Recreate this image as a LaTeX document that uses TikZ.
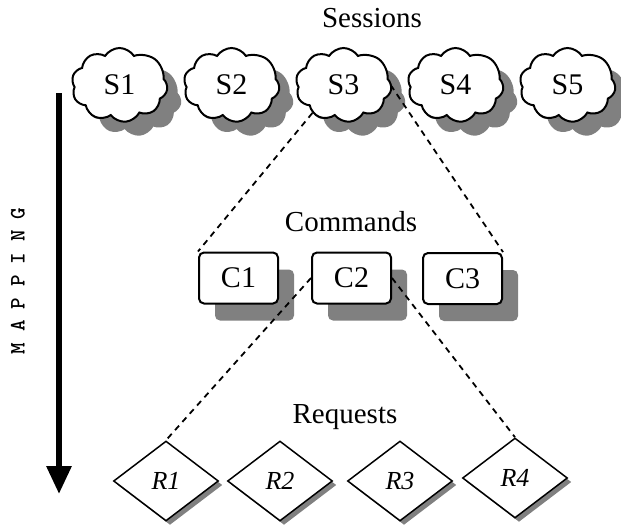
\documentclass[tikz,border=0pt]{standalone}
\usepackage{fontspec}
\setmainfont{Liberation Serif}
\usetikzlibrary{shapes.symbols,shapes.geometric,shadows,arrows.meta}
\definecolor{shade}{HTML}{808080}
\newcommand{\mgap}{\kern11pt}
\tikzset{
  session/.style={cloud, cloud puffs=9.6, cloud puff arc=115, cloud ignores aspect,
    minimum width=96pt, minimum height=74pt, inner sep=0pt, draw, line width=2pt,
    fill=white, font=\fontsize{30}{33}\selectfont,
    drop shadow={shadow xshift=14pt, shadow yshift=-14pt, fill=shade, opacity=1}},
  command/.style={rectangle, rounded corners=5pt, minimum width=79pt, minimum height=51pt,
    inner sep=0pt, draw, line width=2pt, fill=white, font=\fontsize{30}{33}\selectfont,
    drop shadow={shadow xshift=16pt, shadow yshift=-17pt, fill=shade, opacity=1}},
  request/.style={diamond, minimum width=105pt, minimum height=80pt, inner sep=0pt,
    draw, line width=1.5pt, fill=white, font=\itshape\fontsize{26}{30}\selectfont,
    drop shadow={shadow xshift=4pt, shadow yshift=-4pt, fill=shade, opacity=1}},
  heading/.style={font=\fontsize{29}{32}\selectfont},
  link/.style={line width=1.8pt, dash pattern=on 6pt off 5pt},
}
\begin{document}
\begin{tikzpicture}[x=1pt, y=-1pt]
  \useasboundingbox (0,0) rectangle (621,525);

  % sessions
  \node[heading] (hs) at (372,18) {Sessions};
  \node[session] (S1) at (119.5,85) {S1};
  \node[session] (S2) at (231.5,85) {S2};
  \node[session] (S3) at (343.5,85) {S3};
  \node[session] (S4) at (455.5,85) {S4};
  \node[session] (S5) at (567.5,85) {S5};

  % commands
  \node[heading] (hc) at (351,222) {Commands};
  \node[command] (C1) at (238.5,278) {C1};
  \node[command] (C2) at (351.5,278) {C2};
  \node[command] (C3) at (462.5,278.5) {C3};

  % requests
  \node[heading] (hr) at (345,417) {Requests};
  \node[request] (R1) at (166,481) {R1};
  \node[request] (R2) at (280,481) {R2};
  \node[request] (R3) at (400,481) {R3};
  \node[request] (R4) at (515,478) {R4};

  % fan-out links
  \draw[link] (S3.222) -- (C1.north west);
  \draw[link] (S3.east) -- (C3.north east);
  \draw[link] (C2.west) -- (R1.north);
  \draw[link] (C2.east) -- (R4.north);

  % mapping direction
  \coordinate (mtop) at (59,93);
  \coordinate (mbot) at (59,494);
  \draw[line width=6pt, -{Triangle[width=24pt, length=28pt]}] (mtop) -- (mbot);
  \node[rotate=90, font=\ttfamily\bfseries\fontsize{22}{24}\selectfont] (map) at (18,281)
    {M\mgap A\mgap P\mgap P\mgap I\mgap N\mgap G};
\end{tikzpicture}
\end{document}
